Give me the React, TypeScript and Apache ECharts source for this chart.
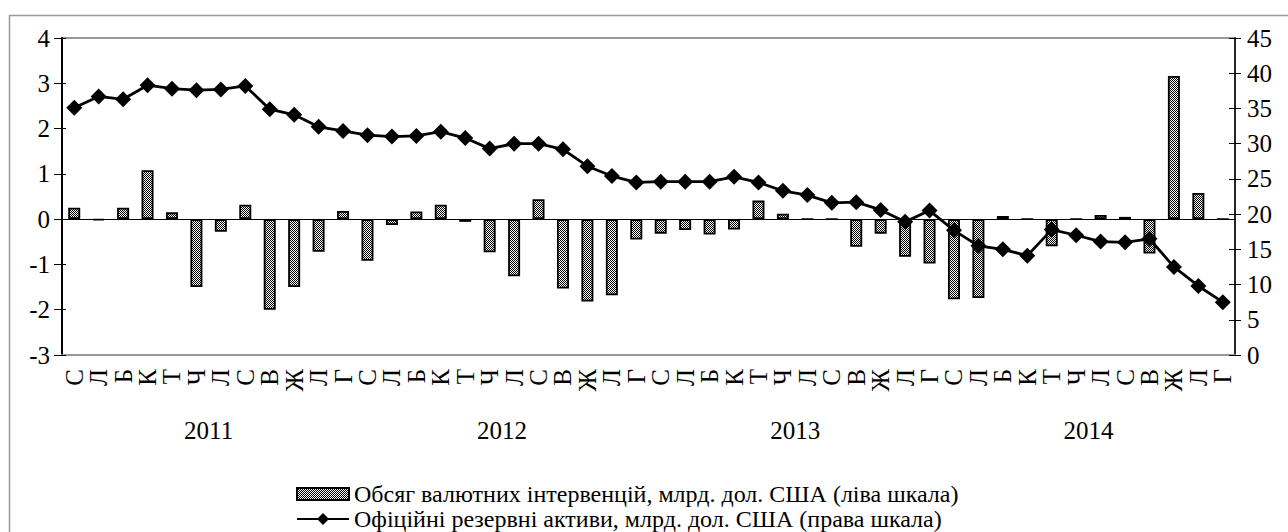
import React, { useEffect, useRef } from 'react';
import * as echarts from 'echarts';

const years = ['2011', '2012', '2013', '2014'];
const monthLabels = ['С', 'Л', 'Б', 'К', 'Т', 'Ч', 'Л', 'С', 'В', 'Ж', 'Л', 'Г'];

const interventions2011 = [0.25, -0.02, 0.25, 1.08, 0.15, -1.5, -0.28, 0.32, -2.0, -1.5, -0.72, 0.18];
const interventions2012 = [-0.92, -0.13, 0.17, 0.32, -0.06, -0.73, -1.26, 0.44, -1.53, -1.82, -1.68, -0.45];
const interventions2013 = [-0.32, -0.24, -0.34, -0.23, 0.41, 0.12, 0, 0, -0.61, -0.32, -0.83, -0.98];
const interventions2014 = [-1.77, -1.74, 0.07, 0, -0.6, 0, 0.09, 0.05, -0.76, 3.16, 0.58, 0];

const reserves2011 = [35.1, 36.7, 36.3, 38.3, 37.8, 37.6, 37.7, 38.2, 34.9, 34.1, 32.4, 31.8];
const reserves2012 = [31.2, 31.0, 31.1, 31.7, 30.8, 29.3, 30.0, 30.0, 29.2, 26.8, 25.4, 24.5];
const reserves2013 = [24.6, 24.6, 24.6, 25.3, 24.5, 23.3, 22.7, 21.6, 21.7, 20.6, 18.9, 20.5];
const reserves2014 = [17.7, 15.5, 15.0, 14.1, 17.8, 17.0, 16.1, 16.0, 16.5, 12.5, 9.8, 7.5];

const leftAxis = { min: -3, max: 4, interval: 1 };
const rightAxis = { min: 0, max: 45, interval: 5 };

const barName = 'Обсяг валютних інтервенцій, млрд. дол. США (ліва шкала)';
const lineName = 'Офіційні резервні активи, млрд. дол. США (права шкала)';

const FONT = "'Liberation Serif', 'Times New Roman', serif";

export default function App() {
  const ref = useRef<HTMLDivElement>(null);

  useEffect(() => {
    if (!ref.current) return;
    const chart = echarts.init(ref.current, null, { renderer: 'svg' });

    const categories: string[] = [];
    years.forEach(() => monthLabels.forEach((m) => categories.push(m)));
    const interventions = [...interventions2011, ...interventions2012, ...interventions2013, ...interventions2014];
    const reserves = [...reserves2011, ...reserves2012, ...reserves2013, ...reserves2014];

    const tile = document.createElement('canvas');
    tile.width = 2;
    tile.height = 2;
    const ctx = tile.getContext('2d')!;
    ctx.fillStyle = '#ffffff';
    ctx.fillRect(0, 0, 2, 2);
    ctx.fillStyle = '#000000';
    ctx.fillRect(0, 0, 1, 1);
    ctx.fillRect(1, 1, 1, 1);
    const pattern: any = { image: tile, repeat: 'repeat', imageWidth: 2, imageHeight: 2 };

    const labelStyle = { fontSize: 25, color: '#000', fontFamily: FONT };
    const legendBase = {
      orient: 'horizontal',
      left: 296,
      itemWidth: 52,
      padding: 0,
      textStyle: { fontSize: 24, lineHeight: 24, color: '#000', fontFamily: FONT },
    };

    chart.setOption({
      animation: false,
      backgroundColor: '#fff',
      grid: { left: 62, right: 53, top: 38, bottom: 177, show: true, borderColor: '#999', borderWidth: 2 },
      legend: [
        { ...legendBase, itemHeight: 12, top: 482, data: [{ name: barName, icon: 'rect' }] },
        { ...legendBase, itemHeight: 15, top: 507, data: [{ name: lineName }] },
      ],
      xAxis: [
        {
          type: 'category', data: categories, position: 'bottom',
          axisLine: { onZero: false, lineStyle: { color: '#999', width: 2 } },
          axisTick: { length: 42, interval: 0, lineStyle: { color: '#999' } },
          axisLabel: { ...labelStyle, rotate: 90, margin: 14, interval: 0 },
        },
        {
          type: 'category', data: categories, position: 'bottom',
          axisLine: { onZero: true, onZeroAxisIndex: 0, lineStyle: { color: '#000', width: 1 } },
          axisTick: { length: 7, interval: 0, lineStyle: { color: '#888' } },
          axisLabel: { show: false },
        },
        {
          type: 'category', data: categories, position: 'top',
          axisLine: { onZero: true, onZeroAxisIndex: 0, lineStyle: { color: '#000', width: 1 } },
          axisTick: { length: 7, interval: 0, lineStyle: { color: '#888' } },
          axisLabel: { show: false },
        },
        {
          type: 'category', data: years, position: 'bottom',
          axisLine: { show: false, onZero: false },
          axisTick: { length: 88, interval: 0, lineStyle: { color: '#999' } },
          axisLabel: { ...labelStyle, margin: 63, interval: 0 },
        },
      ],
      yAxis: [
        {
          type: 'value', position: 'left', ...leftAxis,
          axisLine: { show: true, onZero: false, lineStyle: { color: '#000', width: 2 } },
          axisTick: { show: true, length: 8, lineStyle: { color: '#000' } },
          splitLine: { show: false },
          axisLabel: { ...labelStyle, margin: 12 },
        },
        {
          type: 'value', position: 'right', ...rightAxis,
          axisLine: { show: true, onZero: false, lineStyle: { color: '#000', width: 1.5 } },
          axisTick: { show: true, length: 6, lineStyle: { color: '#000' } },
          splitLine: { show: false },
          axisLabel: { ...labelStyle, margin: 12 },
        },
        {
          type: 'value', position: 'left', ...leftAxis,
          axisLine: { show: false, onZero: false },
          axisTick: { show: true, inside: true, length: 4, lineStyle: { color: '#000' } },
          splitLine: { show: false },
          axisLabel: { show: false },
        },
        {
          type: 'value', position: 'right', ...rightAxis,
          axisLine: { show: false, onZero: false },
          axisTick: { show: true, inside: true, length: 6, lineStyle: { color: '#000' } },
          splitLine: { show: false },
          axisLabel: { show: false },
        },
      ],
      graphic: [
        {
          type: 'rect', left: 7, top: 13, silent: true, z: -10,
          shape: { x: 0, y: 0, width: 1400, height: 600 },
          style: { fill: 'none', stroke: '#999', lineWidth: 1.5 },
        },
      ],
      series: [
        {
          name: barName, type: 'bar', xAxisIndex: 0, yAxisIndex: 0,
          data: interventions, barWidth: 12,
          itemStyle: { color: pattern, borderColor: '#000', borderWidth: 1.8 },
        },
        {
          name: lineName, type: 'line', xAxisIndex: 0, yAxisIndex: 1,
          data: reserves, symbol: 'diamond', symbolSize: 16,
          lineStyle: { color: '#000', width: 2.8 },
          itemStyle: { color: '#000' },
          z: 5,
        },
      ],
    });

    return () => chart.dispose();
  }, []);

  return <div ref={ref} style={{ position: 'fixed', left: 0, top: 0, width: 1288, height: 532 }} />;
}
